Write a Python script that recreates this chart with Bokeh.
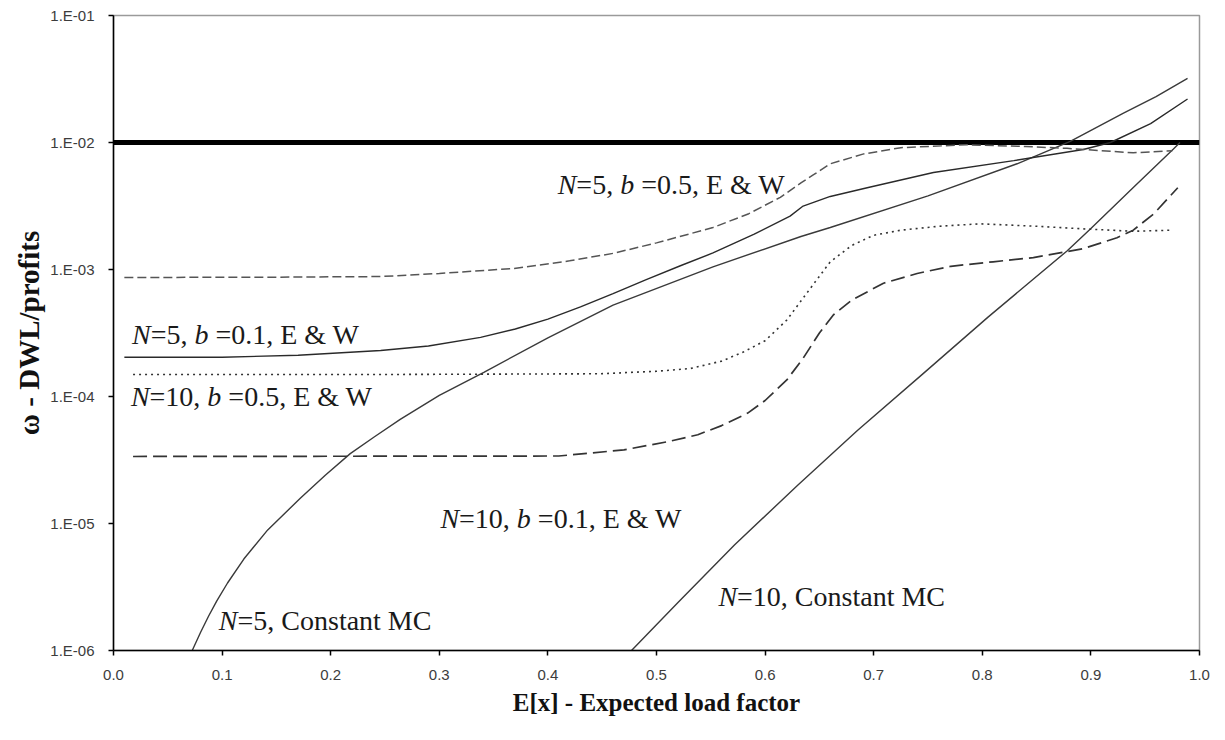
from bokeh.plotting import figure
from bokeh.models import (Range1d, FixedTicker, CustomJSTickFormatter,
                          PrintfTickFormatter, ColumnDataSource)
from bokeh.core.properties import value
from bokeh.embed import file_html
from bokeh.resources import INLINE

# ---------------- data ----------------
threshold = 1.0e-2
threshold_x = [0.0, 1.0]

n5_const_x = [0.0725, 0.08, 0.0875, 0.095, 0.105, 0.12, 0.142, 0.172, 0.195, 0.218, 0.24, 0.264,
              0.30, 0.341, 0.40, 0.46, 0.552, 0.633, 0.66, 0.75, 0.832, 0.881, 0.93, 0.96, 0.989]
n5_const_y = [1.0e-6, 1.38e-6, 1.86e-6, 2.45e-6, 3.4e-6, 5.25e-6, 8.9e-6, 1.58e-5, 2.4e-5,
              3.55e-5, 4.8e-5, 6.6e-5, 1.02e-4, 1.55e-4, 2.9e-4, 5.25e-4, 1.05e-3, 1.82e-3,
              2.14e-3, 3.8e-3, 6.8e-3, 1.02e-2, 1.7e-2, 2.3e-2, 3.2e-2]

n10_const_x = [0.477, 0.52, 0.572, 0.63, 0.685, 0.745, 0.805, 0.878, 0.9, 0.94, 0.976, 0.982]
n10_const_y = [1.0e-6, 2.4e-6, 6.8e-6, 2.0e-5, 5.4e-5, 1.5e-4, 4.2e-4, 1.4e-3, 2.1e-3,
               4.5e-3, 8.9e-3, 1.0e-2]

n5_b01_x = [0.01, 0.10, 0.17, 0.246, 0.29, 0.338, 0.37, 0.40, 0.43, 0.46, 0.49, 0.522, 0.552,
            0.59, 0.623, 0.635, 0.66, 0.694, 0.755, 0.829, 0.893, 0.918, 0.955, 0.989]
n5_b01_y = [2.04e-4, 2.04e-4, 2.11e-4, 2.3e-4, 2.5e-4, 2.92e-4, 3.4e-4, 4.07e-4, 5.07e-4,
            6.45e-4, 8.3e-4, 1.07e-3, 1.35e-3, 1.9e-3, 2.63e-3, 3.16e-3, 3.76e-3, 4.4e-3,
            5.8e-3, 7.2e-3, 8.8e-3, 1.0e-2, 1.41e-2, 2.2e-2]

n5_b05_x = [0.01, 0.15, 0.246, 0.30, 0.369, 0.42, 0.46, 0.50, 0.552, 0.585, 0.614, 0.633, 0.645,
            0.66, 0.69, 0.725, 0.786, 0.84, 0.878, 0.939, 0.975]
n5_b05_y = [8.65e-4, 8.7e-4, 8.8e-4, 9.3e-4, 1.02e-3, 1.17e-3, 1.34e-3, 1.62e-3, 2.14e-3,
            2.75e-3, 3.7e-3, 4.8e-3, 5.6e-3, 6.8e-3, 8.1e-3, 9.1e-3, 9.6e-3, 9.3e-3, 9.0e-3,
            8.3e-3, 8.6e-3]

n10_b05_x = [0.018, 0.246, 0.448, 0.50, 0.531, 0.56, 0.58, 0.60, 0.62, 0.64, 0.66, 0.68, 0.70,
             0.725, 0.76, 0.798, 0.85, 0.893, 0.939, 0.975]
n10_b05_y = [1.49e-4, 1.49e-4, 1.51e-4, 1.58e-4, 1.66e-4, 1.9e-4, 2.24e-4, 2.75e-4, 4.0e-4,
             6.8e-4, 1.15e-3, 1.55e-3, 1.86e-3, 2.04e-3, 2.19e-3, 2.29e-3, 2.19e-3, 2.09e-3,
             2.0e-3, 2.04e-3]

n10_b01_x = [0.018, 0.41, 0.47, 0.51, 0.538, 0.56, 0.584, 0.60, 0.62, 0.635, 0.65, 0.663, 0.68,
             0.709, 0.74, 0.771, 0.81, 0.847, 0.893, 0.924, 0.939, 0.958, 0.98]
n10_b01_y = [3.37e-5, 3.4e-5, 3.8e-5, 4.4e-5, 5.0e-5, 5.9e-5, 7.4e-5, 9.3e-5, 1.35e-4, 2.0e-4,
             3.16e-4, 4.4e-4, 5.75e-4, 7.8e-4, 9.3e-4, 1.06e-3, 1.15e-3, 1.24e-3, 1.46e-3,
             1.78e-3, 2.04e-3, 2.75e-3, 4.4e-3]

x_tick_values = [0.0, 0.1, 0.2, 0.3, 0.4, 0.5, 0.6, 0.7, 0.8, 0.9, 1.0]
y_tick_values = [1e-6, 1e-5, 1e-4, 1e-3, 1e-2, 1e-1]
y_tick_labels = ["1.E-06", "1.E-05", "1.E-04", "1.E-03", "1.E-02", "1.E-01"]

# curve labels: pieces of (text, italic)
label_texts = [
    [("N", True), ("=5, ", False), ("b", True), (" =0.5, E & W", False)],
    [("N", True), ("=5, ", False), ("b", True), (" =0.1, E & W", False)],
    [("N", True), ("=10, ", False), ("b", True), (" =0.5, E & W", False)],
    [("N", True), ("=10, ", False), ("b", True), (" =0.1, E & W", False)],
    [("N", True), ("=5, Constant MC", False)],
    [("N", True), ("=10, Constant MC", False)],
]
# anchor (left, baseline) of each label in data coordinates
label_x = [0.409, 0.017, 0.016, 0.301, 0.097, 0.557]
label_y = [4.7e-3, 3.06e-4, 9.95e-5, 1.10e-5, 1.73e-6, 2.65e-6]

# ---------------- figure ----------------
FONT_PX = 28
p = figure(width=1217, height=725, output_backend="svg", toolbar_location=None,
           x_range=Range1d(0, 1), y_range=Range1d(1e-6, 1e-1), y_axis_type="log",
           min_border_left=113, min_border_right=18, min_border_top=15, min_border_bottom=75)
p.background_fill_color = "white"
p.border_fill_color = "white"
p.outline_line_color = "#9a9a9a"
p.outline_line_width = 1.5
p.xgrid.visible = False
p.ygrid.visible = False

# threshold
p.line(threshold_x, [threshold, threshold], line_color="black", line_width=5)

# curves
p.line(n5_const_x, n5_const_y, line_color="#3a3a3a", line_width=1.4)
p.line(n10_const_x, n10_const_y, line_color="#3a3a3a", line_width=1.4)
p.line(n5_b01_x, n5_b01_y, line_color="#2a2a2a", line_width=1.4)
p.line(n5_b05_x, n5_b05_y, line_color="#555555", line_width=1.5, line_dash="9 4")
p.line(n10_b05_x, n10_b05_y, line_color="#333333", line_width=1.6, line_dash="2 4")
p.line(n10_b01_x, n10_b01_y, line_color="#333333", line_width=1.7, line_dash="14 6")

# label pieces with offsets from Times-compatible metrics
REG = {" ": 250, "=": 564, ",": 250, ".": 250, "E": 611, "&": 778, "W": 944,
       "C": 667, "o": 500, "n": 500, "s": 389, "t": 278, "a": 444, "M": 889}
ITA = {"N": 667, "b": 500}


def width(s, italic):
    tot = 0
    for ch in s:
        if italic:
            tot += ITA.get(ch, 500)
        else:
            tot += REG.get(ch, 500)
    return tot / 1000.0 * FONT_PX


it = dict(x=[], y=[], text=[], xo=[])
rg = dict(x=[], y=[], text=[], xo=[])
for pieces, lx, ly in zip(label_texts, label_x, label_y):
    off = 0.0
    for txt, ital in pieces:
        lead = len(txt) - len(txt.lstrip(" "))
        off += width(" " * lead, ital)
        shown = txt.lstrip(" ")
        d = it if ital else rg
        d["x"].append(lx)
        d["y"].append(ly)
        d["text"].append(shown)
        d["xo"].append(off)
        off += width(shown, ital)

p.text(x="x", y="y", text="text", x_offset="xo", source=ColumnDataSource(it),
       text_font=value("Liberation Serif"), text_font_style="italic",
       text_font_size=f"{FONT_PX}px", text_baseline="alphabetic", text_align="left",
       text_color="#1a1a1a")
p.text(x="x", y="y", text="text", x_offset="xo", source=ColumnDataSource(rg),
       text_font=value("Liberation Serif"), text_font_style="normal",
       text_font_size=f"{FONT_PX}px", text_baseline="alphabetic", text_align="left",
       text_color="#1a1a1a")

# axes
for ax in (p.xaxis[0], p.yaxis[0]):
    ax.axis_line_color = "black"
    ax.axis_line_width = 1.5
    ax.major_tick_line_color = "black"
    ax.major_tick_line_width = 1.5
    ax.major_tick_out = 5
    ax.major_tick_in = 0
    ax.minor_tick_line_color = None
    ax.major_label_text_font = "Liberation Sans"
    ax.major_label_text_font_size = "15px"
    ax.major_label_text_color = "#3c3c3c"
    ax.axis_label_text_font = "Liberation Serif"
    ax.axis_label_text_font_style = "bold"
    ax.axis_label_text_color = "#111111"

p.xaxis.ticker = FixedTicker(ticks=x_tick_values)
p.xaxis.formatter = PrintfTickFormatter(format="%.1f")
p.xaxis.major_label_standoff = 14
p.xaxis.axis_label = "E[x] - Expected load factor"
p.xaxis.axis_label_text_font_size = "25px"
p.xaxis.axis_label_standoff = 6

p.yaxis.ticker = FixedTicker(ticks=y_tick_values)
p.yaxis.formatter = CustomJSTickFormatter(
    args=dict(vals=y_tick_values, labs=y_tick_labels),
    code="""
    let best = 0, bd = Infinity;
    for (let i = 0; i < vals.length; i++) {
        const d = Math.abs(Math.log10(tick) - Math.log10(vals[i]));
        if (d < bd) { bd = d; best = i; }
    }
    return labs[best];
    """)
p.yaxis.major_label_standoff = 14
p.yaxis.axis_label = "ω - DWL/profits"
p.yaxis.axis_label_text_font_size = "29px"
p.yaxis.axis_label_standoff = 2

open("out.html", "w").write(file_html(p, INLINE))
